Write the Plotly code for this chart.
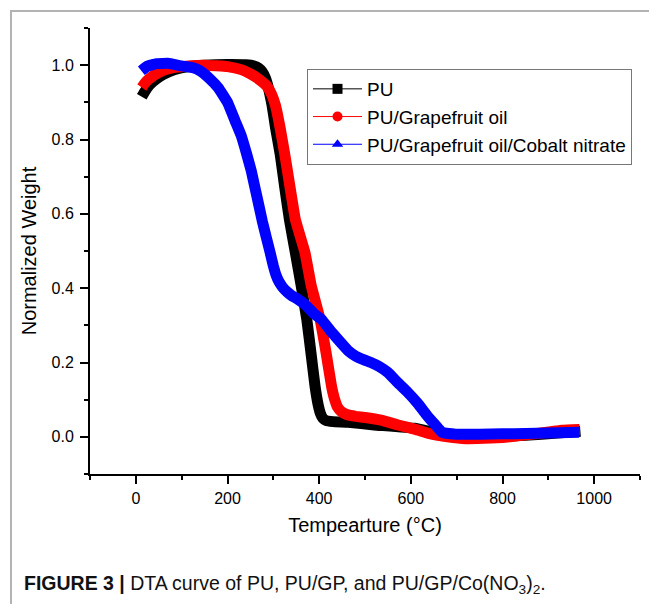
import plotly.graph_objects as go

# ---- data (Temperature in °C, normalized weight) ----
pu_temp = [13, 20, 30, 45, 60, 85, 115, 150, 200, 240, 258, 268, 276, 283, 290,
           297, 305, 315, 325, 335, 348, 361, 373, 382, 391, 398, 403, 408, 415,
           430, 463, 520, 608, 665, 700, 760, 850, 920, 970]
pu_w = [0.915, 0.93, 0.947, 0.963, 0.975, 0.988, 0.996, 1.0, 1.002, 1.001, 0.998,
        0.992, 0.982, 0.965, 0.935, 0.894, 0.83, 0.76, 0.67, 0.585, 0.496, 0.405,
        0.316, 0.227, 0.136, 0.085, 0.062, 0.05, 0.044, 0.041, 0.039, 0.032,
        0.023, 0.008, 0.003, 0.0, 0.004, 0.01, 0.015]

gp_temp = [13, 20, 30, 45, 60, 85, 115, 150, 200, 230, 248, 262, 274, 285, 295,
           305, 315, 325, 348, 369, 383, 402, 415, 427, 434, 440, 448, 460, 480,
           500, 535, 572, 610, 643, 680, 720, 800, 870, 930, 968]
gp_w = [0.94, 0.952, 0.964, 0.977, 0.986, 0.994, 0.998, 1.0, 0.996, 0.988, 0.978,
        0.968, 0.957, 0.945, 0.925, 0.89, 0.83, 0.76, 0.585, 0.496, 0.405, 0.316,
        0.227, 0.136, 0.1, 0.08, 0.068, 0.06, 0.055, 0.052, 0.045, 0.032, 0.02,
        0.008, 0.0, -0.005, -0.002, 0.008, 0.018, 0.02]

co_temp = [12, 25, 45, 70, 100, 125, 140, 160, 180, 200, 217, 230, 242, 252, 260,
           268, 276, 285, 293, 300, 306, 312, 320, 330, 340, 354, 370, 390, 405,
           425, 441, 463, 480, 498, 513, 530, 550, 572, 593, 615, 637, 655, 668,
           700, 750, 800, 850, 900, 967]
co_w = [0.985, 0.997, 1.004, 1.005, 0.998, 0.993, 0.985, 0.965, 0.939, 0.9, 0.849,
        0.81, 0.76, 0.715, 0.67, 0.625, 0.58, 0.535, 0.496, 0.46, 0.435, 0.418,
        0.403, 0.39, 0.38, 0.37, 0.355, 0.33, 0.316, 0.285, 0.262, 0.232, 0.217,
        0.207, 0.2, 0.19, 0.173, 0.145, 0.12, 0.09, 0.055, 0.03, 0.012, 0.007,
        0.007, 0.008, 0.009, 0.01, 0.012]

series_names = ["PU", "PU/Grapefruit oil", "PU/Grapefruit oil/Cobalt nitrate"]
series_colors = ["#000000", "#ff0000", "#0000ff"]
series_symbols = ["square", "circle", "triangle-up"]
series_x = [pu_temp, gp_temp, co_temp]
series_y = [pu_w, gp_w, co_w]

x_title = "Tempearture (°C)"
y_title = "Normalized Weight"
caption = "<b>FIGURE 3 |</b> DTA curve of PU, PU/GP, and PU/GP/Co(NO<sub>3</sub>)<sub>2</sub>."

FONT = "Arial, 'Liberation Sans', Helvetica, sans-serif"

fig = go.Figure()

# thick data bands
for xs, ys, col in zip(series_x, series_y, series_colors):
    fig.add_trace(go.Scatter(
        x=xs, y=ys, mode="lines", showlegend=False, hoverinfo="skip",
        line=dict(color=col, width=11, shape="spline", smoothing=0.25),
    ))

# legend entries (thin line + marker)
for name, col, sym in zip(series_names, series_colors, series_symbols):
    fig.add_trace(go.Scatter(
        x=[None], y=[None], mode="lines+markers", name=name,
        line=dict(color=col, width=1),
        marker=dict(color=col, symbol=sym, size=10),
    ))

# plot-area geometry (px) used to convert figure border to paper coords
W, H = 649, 604
ML, MR, MT, MB = 90, 9, 28, 130
PW, PH = W - ML - MR, H - MT - MB


def px_x(px):
    return (px - ML) / PW


def px_y(py):
    return (H - MB - py) / PH


border_col = "#b3b3b3"
fig.add_shape(type="line", xref="paper", yref="paper",
              x0=px_x(10), x1=px_x(649), y0=px_y(11), y1=px_y(11),
              line=dict(color=border_col, width=2))
fig.add_shape(type="line", xref="paper", yref="paper",
              x0=px_x(11), x1=px_x(11), y0=px_y(11), y1=px_y(604),
              line=dict(color=border_col, width=2))

fig.add_annotation(text=caption, xref="paper", yref="paper",
                   x=px_x(22), y=px_y(584), xanchor="left", yanchor="middle",
                   showarrow=False, font=dict(family=FONT, size=19.5, color="#111"))

axis_common = dict(
    showline=True, linecolor="black", linewidth=2, mirror=False,
    showgrid=False, zeroline=False, ticks="outside", ticklen=8, tickwidth=1.5,
    tickcolor="black", tickfont=dict(family=FONT, size=16, color="black"),
)

fig.update_layout(
    width=W, height=H,
    margin=dict(l=ML, r=MR, t=MT, b=MB, autoexpand=False),
    paper_bgcolor="white", plot_bgcolor="white",
    font=dict(family=FONT, color="black"),
    xaxis=dict(range=[-100, 1100], tick0=0, dtick=200,
               minor=dict(dtick=100, ticks="outside", ticklen=4, tickwidth=1.5,
                          tickcolor="black"),
               title=dict(text=x_title, font=dict(family=FONT, size=20), standoff=12),
               ticklabelstandoff=1,
               **axis_common),
    yaxis=dict(range=[-0.1, 1.1], tick0=0, dtick=0.2, tickformat=".1f",
               minor=dict(dtick=0.1, ticks="outside", ticklen=4, tickwidth=1.5,
                          tickcolor="black"),
               title=dict(text=y_title, font=dict(family=FONT, size=20), standoff=10),
               ticklabelstandoff=3,
               **axis_common),
    legend=dict(x=px_x(307), y=px_y(69), xanchor="left", yanchor="top",
                bgcolor="white", bordercolor="#777777", borderwidth=1,
                font=dict(family=FONT, size=19, color="black"),
                itemwidth=49, tracegroupgap=0),
)

fig.write_html("out.html")
